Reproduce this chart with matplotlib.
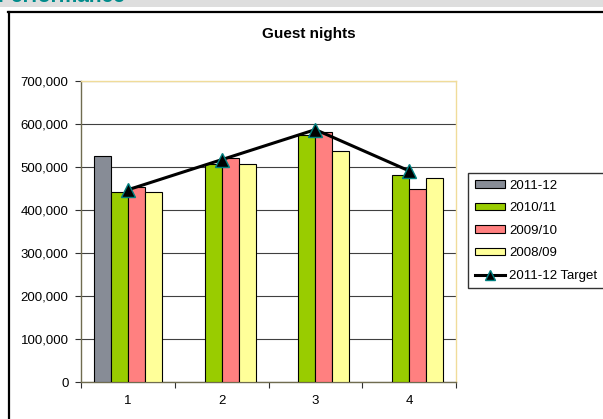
import numpy as np
import matplotlib
matplotlib.use("Agg")
from matplotlib import pyplot as plt
from matplotlib.patches import Patch, Rectangle
from matplotlib.lines import Line2D
from matplotlib.ticker import FuncFormatter

plt.rcParams['font.family'] = ['Liberation Sans', 'DejaVu Sans']

# data
categories = ['1', '2', '3', '4']
s2011_12 = [526000, np.nan, np.nan, np.nan]
s2010_11 = [441000, 506000, 574000, 481000]
s2009_10 = [453000, 520000, 581000, 448000]
s2008_09 = [441000, 507000, 538000, 475000]
target = [447000, 517000, 587000, 491000]

names = ['2011-12', '2010/11', '2009/10', '2008/09']
colors = ['#878C96', '#99CC00', '#FF8080', '#FFFF99']

W, H = 603, 419
fig = plt.figure(figsize=(W / 100, H / 100), dpi=100)

# page decoration: grey band with cut-off heading and chart frame
fig.patches.append(Rectangle((0, 1 - 7 / H), 1, 7 / H, transform=fig.transFigure,
                             facecolor='#DEDEDE', edgecolor='none', zorder=0))
fig.text(-2 / W, 1 - 2.5 / H, 'Performance', color='#008B8B', fontsize=15,
         fontweight='bold', va='baseline', ha='left')
fig.add_artist(Line2D([8 / W, 1], [1 - 12 / H, 1 - 12 / H], color='black', lw=1.6,
                      transform=fig.transFigure))
fig.add_artist(Line2D([9 / W, 9 / W], [0, 1 - 12 / H], color='black', lw=1.6,
                      transform=fig.transFigure))

ax = fig.add_axes([81 / W, (H - 382) / H, 375 / W, 301 / H])

x = np.arange(len(categories))
w = 0.181
series = [s2011_12, s2010_11, s2009_10, s2008_09]
for i, (vals, c) in enumerate(zip(series, colors)):
    vals = np.array(vals, dtype=float)
    m = ~np.isnan(vals)
    ax.bar(x[m] + (i - 1.5) * w, vals[m], width=w, color=c, edgecolor='black',
           linewidth=0.8, zorder=3)

ax.plot(x, target, color='black', lw=2.2, marker='^', markersize=10,
        markerfacecolor='black', markeredgecolor='#008080', markeredgewidth=1, zorder=4)

ax.set_xlim(-0.5, 3.5)
ax.set_ylim(0, 700000)
ax.set_yticks(np.arange(0, 700001, 100000))
ax.yaxis.set_major_formatter(FuncFormatter(lambda v, p: f'{int(v):,}'))
ax.set_xticks(x)
ax.set_xticklabels(categories)
ax.set_xticks(np.arange(-0.5, 3.6, 1), minor=True)
ax.tick_params(axis='x', which='major', length=0, pad=9, labelsize=9.5)
ax.tick_params(axis='x', which='minor', length=4, width=0.8, direction='out', color='#303030')
ax.tick_params(axis='y', length=4, width=0.8, pad=5, labelsize=9.5, color='#303030')

ax.grid(axis='y', color='#404040', lw=0.8, zorder=0)
ax.set_axisbelow(True)
for s in ['left', 'bottom']:
    ax.spines[s].set_color('#706C50')
    ax.spines[s].set_linewidth(1.0)
for s in ['top', 'right']:
    ax.spines[s].set_color('#F0DC9A')
    ax.spines[s].set_linewidth(1.0)

fig.text(309 / W, 1 - 34 / H, 'Guest nights', fontsize=11, fontweight='bold',
         ha='center', va='center')

handles = [Patch(facecolor=c, edgecolor='black', linewidth=0.8) for c in colors]
handles.append(Line2D([], [], color='black', lw=2.2, marker='^', markersize=7,
                      markerfacecolor='black', markeredgecolor='#008080'))
leg = fig.legend(handles, names + ['2011-12 Target'], loc='upper left',
                 bbox_to_anchor=(468 / W, 1 - 173 / H), bbox_transform=fig.transFigure,
                 fontsize=9.5, frameon=True, fancybox=False, edgecolor='black',
                 handlelength=2.3, handleheight=0.5, handletextpad=0.3,
                 labelspacing=0.8, borderpad=0.5, borderaxespad=0)
leg.get_frame().set_linewidth(1.0)

fig.savefig('out.png', dpi=100)
